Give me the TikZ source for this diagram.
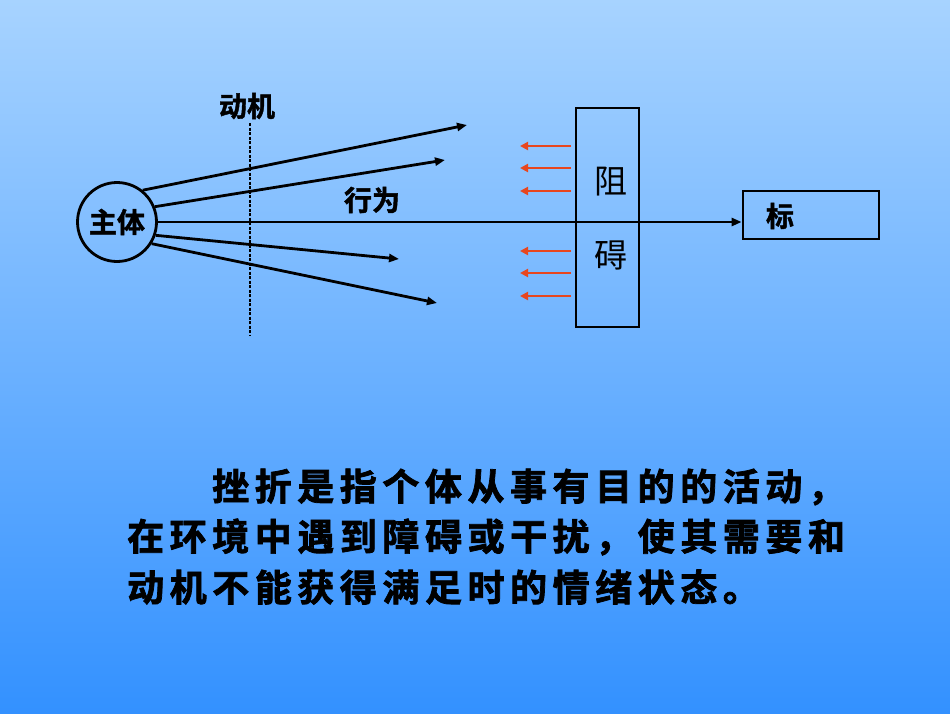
\documentclass[tikz,border=0pt]{standalone}
\usepackage{fontspec}
\newfontfamily\hei{Noto Sans CJK SC}
\newfontfamily\heib[FakeBold=1.5]{Noto Sans CJK SC Bold}
\newfontfamily\heibs[LetterSpace=15,FakeBold=2]{Noto Sans CJK SC Bold}
\usetikzlibrary{arrows.meta}
\definecolor{bgtop}{HTML}{A7D3FF}
\definecolor{bgbot}{HTML}{3391FF}
\definecolor{obst}{HTML}{E8461E}
\tikzset{
  lbl/.style={inner sep=0pt, font=\heib\fontsize{28}{28}\selectfont},
  boxlbl/.style={inner sep=0pt, font=\hei\fontsize{33}{33}\selectfont},
  act/.style={line width=2.8pt, -{Triangle[length=10pt,width=8pt]}},
  obstarrow/.style={line width=2.8pt, obst, -{Triangle[length=8pt,width=8pt]}},
  frame/.style={draw, line width=2.8pt, inner sep=0pt},
  para/.style={anchor=west, inner sep=0pt, font=\heibs\fontsize{37}{37}\selectfont}
}
\begin{document}
\begin{tikzpicture}[x=1pt,y=-1pt]
\shade[top color=bgtop,bottom color=bgbot] (0,0) rectangle (950,713);
\useasboundingbox (0,0) rectangle (950,713);

% subject
\node[frame, circle, minimum size=79pt, font=\heib\fontsize{28}{28}\selectfont] (zt) at (117,222) {主体};

% motive dashed line
\coordinate (d1) at (250,123);
\coordinate (d2) at (250,335);
\draw[line width=2.8pt, dash pattern=on 3pt off 1.5pt] (d1) -- (d2);
\node[lbl] (dj) at (247,106) {动机};
\node[lbl] (xw) at (372,200) {行为};

% obstacle box
\node[frame, minimum width=63pt, minimum height=219pt] (zb) at (607.5,217.5) {};
\node[boxlbl] (zu) at (611,182) {阻};
\node[boxlbl] (ai) at (611,255) {碍};

% goal box
\node[frame, minimum width=136pt, minimum height=48pt] (mb) at (811,215) {};
\node[lbl] (mbt) at (780,216) {标};

% behaviour lines
\coordinate (e1) at (467,125);
\coordinate (e2) at (445,160);
\coordinate (e4) at (399,259);
\coordinate (e5) at (437,303);
\coordinate (goalin) at (mb.west |- zt.east);
\draw[act] (zt.51) -- (e1);
\draw[act] (zt.22) -- (e2);
\draw[act] (zt.east) -- (goalin);
\draw[act] (zt.-19) -- (e4);
\draw[act] (zt.-32) -- (e5);

% obstacle arrows
\foreach \i/\yy in {1/146,2/168,3/191,4/251,5/273,6/296}{
  \coordinate (rs\i) at (571,\yy);
  \coordinate (re\i) at (520,\yy);
  \draw[obstarrow] (rs\i) -- (re\i);
}

% paragraph
\node[para] (p1) at (212,487) {挫折是指个体从事有目的的活动，};
\node[para] (p2) at (127,537) {在环境中遇到障碍或干扰，使其需要和};
\node[para] (p3) at (127,587) {动机不能获得满足时的情绪状态。};
\end{tikzpicture}
\end{document}
